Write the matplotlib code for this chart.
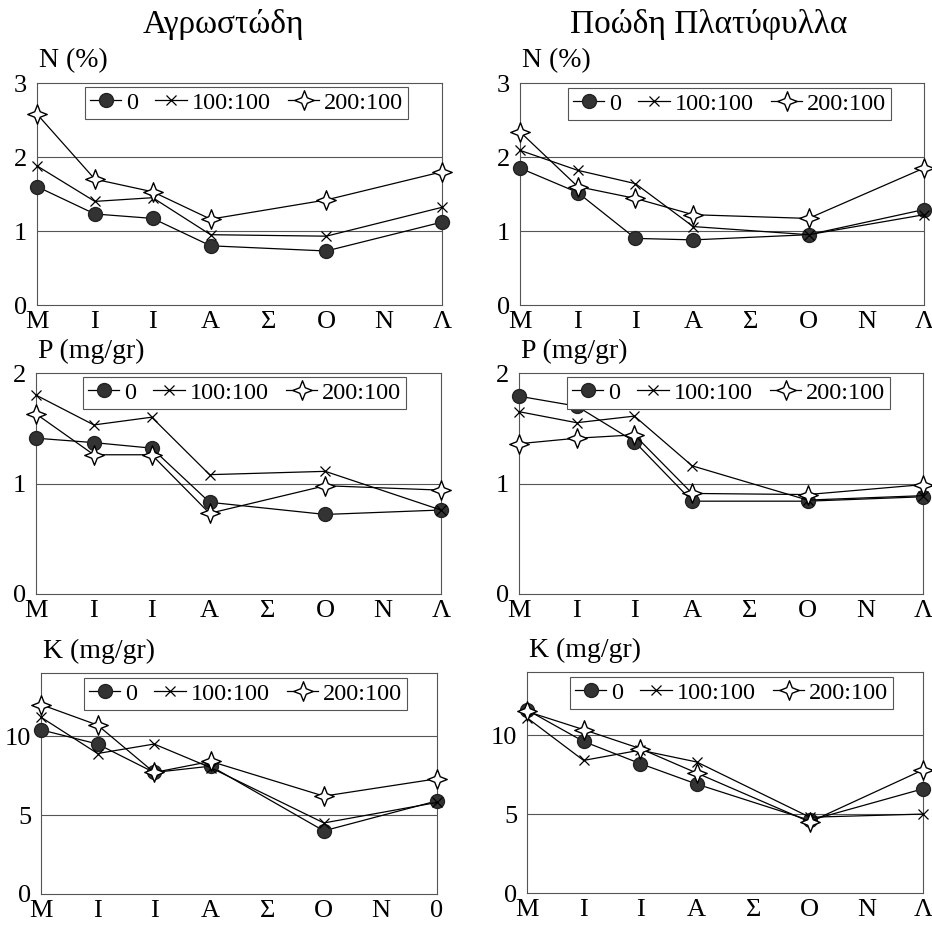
import matplotlib
matplotlib.use('Agg')
import matplotlib.pyplot as plt
from matplotlib.path import Path

plt.rcParams['font.family'] = ['Liberation Serif', 'DejaVu Serif']

months = ['M', 'I', 'I', 'A', 'Σ', 'O', 'N', 'Λ']
months_k_left = ['M', 'I', 'I', 'A', 'Σ', 'O', 'N', '0']
sample_idx = [0, 1, 2, 3, 5, 7]
series_names = ['0', '100:100', '200:100']

# Αγρωστώδη
n_grass_0 = [1.60, 1.23, 1.17, 0.80, 0.73, 1.12]
n_grass_100 = [1.88, 1.40, 1.45, 0.95, 0.93, 1.32]
n_grass_200 = [2.58, 1.70, 1.53, 1.16, 1.42, 1.80]
p_grass_0 = [1.41, 1.37, 1.32, 0.83, 0.72, 0.76]
p_grass_100 = [1.80, 1.53, 1.60, 1.08, 1.11, 0.76]
p_grass_200 = [1.63, 1.26, 1.26, 0.73, 0.98, 0.94]
k_grass_0 = [10.4, 9.5, 7.7, 8.1, 4.0, 5.9]
k_grass_100 = [11.2, 8.9, 9.5, 8.0, 4.5, 5.8]
k_grass_200 = [12.0, 10.7, 7.7, 8.4, 6.2, 7.3]

# Ποώδη Πλατύφυλλα
n_broad_0 = [1.85, 1.52, 0.90, 0.88, 0.95, 1.29]
n_broad_100 = [2.09, 1.82, 1.64, 1.06, 0.95, 1.22]
n_broad_200 = [2.34, 1.60, 1.44, 1.22, 1.17, 1.85]
p_broad_0 = [1.79, 1.70, 1.38, 0.84, 0.84, 0.88]
p_broad_100 = [1.65, 1.55, 1.61, 1.16, 0.85, 0.89]
p_broad_200 = [1.36, 1.41, 1.44, 0.91, 0.90, 0.99]
k_broad_0 = [11.6, 9.6, 8.2, 6.9, 4.6, 6.6]
k_broad_100 = [11.1, 8.4, 9.05, 8.3, 4.8, 5.0]
k_broad_200 = [11.5, 10.35, 9.15, 7.6, 4.5, 7.8]

W, H = 932, 927
fig = plt.figure(figsize=(W / 100, H / 100), dpi=100)

# frame left, right, top, bottom and legend left, top, in pixels
panels = [
    (37, 442, 83, 305, 85, 87, 'N (%)', [0, 1, 2, 3], 3, months,
     [n_grass_0, n_grass_100, n_grass_200]),
    (36, 441, 373, 594, 83, 377, 'P (mg/gr)', [0, 1, 2], 2, months,
     [p_grass_0, p_grass_100, p_grass_200]),
    (41, 437, 673, 894, 84, 678, 'K (mg/gr)', [0, 5, 10], 14, months_k_left,
     [k_grass_0, k_grass_100, k_grass_200]),
    (520, 924, 83, 305, 568, 88, 'N (%)', [0, 1, 2, 3], 3, months,
     [n_broad_0, n_broad_100, n_broad_200]),
    (519, 923, 373, 594, 567, 377, 'P (mg/gr)', [0, 1, 2], 2, months,
     [p_broad_0, p_broad_100, p_broad_200]),
    (527, 923, 672, 893, 570, 677, 'K (mg/gr)', [0, 5, 10], 14, months,
     [k_broad_0, k_broad_100, k_broad_200]),
]

star4 = Path.unit_regular_star(4, 0.4)
styles = [
    dict(marker='o', markersize=10, markerfacecolor='#333333', markeredgecolor='#222222'),
    dict(marker='x', markersize=7, markeredgewidth=0.9, markeredgecolor='black'),
    dict(marker=star4, markersize=14, markerfacecolor='white',
         markeredgecolor='black', markeredgewidth=1.0),
]

for l, r, t, b, lx, ly, ylab, yticks, ymax, xlabels, data in panels:
    ax = fig.add_axes([l / W, 1 - b / H, (r - l) / W, (b - t) / H])
    for vals, name, st in zip(data, series_names, styles):
        ax.plot(sample_idx, vals, color='black', lw=0.9, label=name,
                clip_on=False, zorder=3, **st)
    ax.set_xlim(0, 7)
    ax.set_ylim(0, ymax)
    ax.set_xticks(range(8))
    ax.set_xticklabels(xlabels)
    ax.set_yticks(yticks)
    ax.tick_params(length=0, labelsize=19, pad=4)
    ax.tick_params(axis='y', pad=7)
    for yv in yticks[1:]:
        if yv < ymax:
            ax.axhline(yv, color='#555555', lw=0.8, zorder=1)
    for s in ax.spines.values():
        s.set_color('#555555')
        s.set_linewidth(0.8)
    ax.annotate(ylab, xy=(0, 1), xycoords='axes fraction', xytext=(2, 22),
                textcoords='offset pixels', ha='left', va='center', fontsize=20)
    leg = ax.legend(loc='upper left', bbox_to_anchor=(lx / W, 1 - ly / H),
                    bbox_transform=fig.transFigure, borderaxespad=0, ncol=3,
                    fontsize=17.5, handlelength=1.3, handletextpad=0.2,
                    columnspacing=0.7, borderpad=0.2, fancybox=False,
                    framealpha=1, edgecolor='#555555')
    leg.get_frame().set_linewidth(0.8)
    leg.set_zorder(5)

fig.text(223 / W, 1 - 24 / H, 'Αγρωστώδη', ha='center', va='center', fontsize=24)
fig.text(709 / W, 1 - 24 / H, 'Ποώδη Πλατύφυλλα', ha='center', va='center', fontsize=24)

fig.savefig('out.png', dpi=100)
